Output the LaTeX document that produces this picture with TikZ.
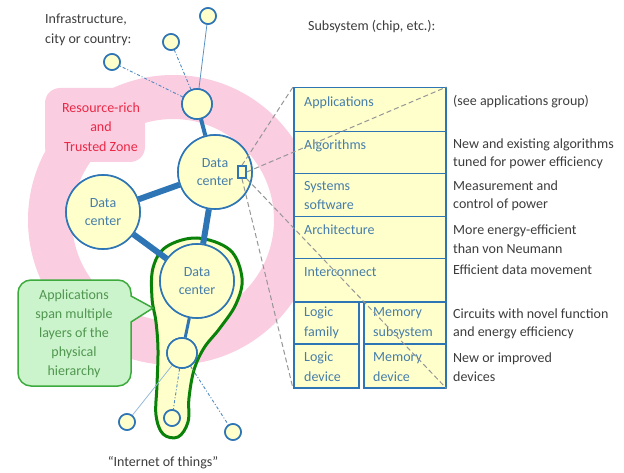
\documentclass[tikz,border=0pt]{standalone}
\usepackage{fontspec}
\setmainfont{Carlito}
\definecolor{bl}{RGB}{46,117,182}
\definecolor{yl}{RGB}{255,255,204}
\definecolor{pk}{RGB}{250,205,225}
\definecolor{rd}{RGB}{235,40,70}
\definecolor{gdark}{RGB}{10,130,10}
\definecolor{gfill}{RGB}{204,244,204}
\definecolor{gline}{RGB}{60,170,60}
\definecolor{gtext}{RGB}{80,150,80}
\definecolor{ttext}{RGB}{70,125,170}
\definecolor{dtext}{RGB}{60,60,60}
\definecolor{dash}{RGB}{150,150,150}
\tikzset{
  every node/.style={font=\fontsize{14}{17}\selectfont},
  circ/.style={circle, draw=bl, fill=yl, line width=1.6pt, inner sep=0pt, minimum size=#1},
  dcnode/.style={circ=74pt, text=ttext, align=center, font=\fontsize{14}{18}\selectfont},
  thickedge/.style={draw=bl, line width=#1},
  thinsolid/.style={draw=bl!80, line width=0.8pt},
  dashdot/.style={draw=bl!85, line width=0.9pt, dash pattern=on 3pt off 2pt on 1pt off 2pt},
  cell/.style={draw=bl, fill=yl, line width=1.5pt, anchor=north west, inner sep=0pt},
  ctext/.style={anchor=west, text=ttext, inner sep=0pt},
  desc/.style={anchor=west, text=dtext, inner sep=0pt},
  zoomline/.style={draw=dash, line width=1pt, dash pattern=on 5pt off 3pt},
}
\begin{document}
\begin{tikzpicture}[x=1pt,y=-1pt]
\useasboundingbox (0,0) rectangle (624,473);
% pink zone
\fill[pk, even odd rule] (173,220) circle (145pt) (173,220) circle (101pt);
\fill[pk, rounded corners=15pt] (45,88) rectangle (145,162);
\node[text=rd, align=center, font=\fontsize{14}{19.5}\selectfont] (zone) at (101,127) {Resource-rich\\and\\Trusted Zone};
% green balloon
\draw[gdark, fill=yl, line width=3pt] plot[smooth cycle, tension=0.6] coordinates {
 (197,238) (230,250) (242,278) (236,304) (220,328) (204,348) (194,370) (189,398) (188,422) (178,437) (163,434) (156,415) (157,385) (158,350) (156,322) (152,298) (153,268) (166,247)};
% nodes
\node[circ=16pt] (t1) at (208,16) {};
\node[circ=16pt] (t2) at (171,42) {};
\node[circ=16pt] (t3) at (112,62) {};
\node[circ=30pt] (hub) at (197,104) {};
\node[dcnode] (dc1) at (215,172) {Data\\center};
\node[dcnode] (dc2) at (103,212) {Data\\center};
\node[dcnode] (dc3) at (197,281) {Data\\center};
\node[circ=30pt] (sm) at (182,353) {};
\node[circ=16pt] (b1) at (127,422) {};
\node[circ=16pt] (b2) at (172,418) {};
\node[circ=16pt] (b3) at (233,432) {};
% edges
\draw[thinsolid] (hub) -- (t1);
\draw[dashdot] (hub) -- (t2);
\draw[dashdot] (hub) -- (t3);
\draw[thickedge=4pt] (hub) -- (dc1);
\draw[thickedge=6pt] (dc1) -- (dc2);
\draw[thickedge=6pt] (dc1) -- (dc3);
\draw[thickedge=6pt] (dc2) -- (dc3);
\draw[thickedge=3pt] (dc3) -- (sm);
\draw[draw=bl!50, line width=0.8pt] (sm) -- (b1);
\draw[dashdot] (sm) -- (b2);
\draw[dashdot] (sm) -- (b3);
% redraw circles on top of edges
\node[circ=16pt] at (t1) {};
\node[circ=16pt] at (t2) {};
\node[circ=16pt] at (t3) {};
\node[circ=30pt] at (hub) {};
\node[dcnode] at (dc1) {Data\\center};
\node[dcnode] at (dc2) {Data\\center};
\node[dcnode] at (dc3) {Data\\center};
\node[circ=30pt] at (sm) {};
\node[circ=16pt] at (b1) {};
\node[circ=16pt] at (b2) {};
\node[circ=16pt] at (b3) {};
% chip marker
\node[draw=bl, fill=yl, line width=1.5pt, minimum width=8pt, minimum height=12pt, inner sep=0pt] (chip) at (242,172) {};
% table
\node[cell, minimum width=152pt, minimum height=44pt] (app) at (293,87) {};
\node[cell, minimum width=152pt, minimum height=42pt] (alg) at (293,131) {};
\node[cell, minimum width=152pt, minimum height=43pt] (sys) at (293,173) {};
\node[cell, minimum width=152pt, minimum height=42pt] (arc) at (293,216) {};
\node[cell, minimum width=152pt, minimum height=43pt] (ic) at (293,258) {};
\node[cell, minimum width=65pt, minimum height=42pt] (lf) at (293,301) {};
\node[cell, minimum width=65pt, minimum height=44pt] (ld) at (293,343) {};
\node[cell, minimum width=82pt, minimum height=42pt] (ms) at (363,301) {};
\node[cell, minimum width=82pt, minimum height=44pt] (md) at (363,343) {};
\node[ctext] at (304,103) {Applications};
\node[ctext] at (304,146) {Algorithms};
\node[ctext, align=left, font=\fontsize{14}{19}\selectfont] at (304,196) {Systems\\software};
\node[ctext] at (304,230) {Architecture};
\node[ctext] at (304,272) {Interconnect};
\node[ctext, align=left, font=\fontsize{14}{20}\selectfont] at (304,323) {Logic\\family};
\node[ctext, align=left, font=\fontsize{14}{20}\selectfont] at (304,367) {Logic\\device};
\node[ctext, align=left, font=\fontsize{14}{20}\selectfont] at (373,323) {Memory\\subsystem};
\node[ctext, align=left, font=\fontsize{14}{20}\selectfont] at (373,367) {Memory\\device};
% zoom lines
\draw[zoomline] (chip.north) -- (app.north west);
\draw[zoomline] (chip.east) -- (app.north east);
\draw[zoomline] (chip.south) -- (ld.south west);
\draw[zoomline] (chip.south east) -- (md.south east);
% descriptions
\begin{scope}[every node/.append style={font=\fontsize{14}{18.5}\selectfont}]
\node[desc] at (453,102) {(see applications group)};
\node[desc, align=left] at (453,154) {New and existing algorithms\\tuned for power efficiency};
\node[desc, align=left] at (453,196) {Measurement and\\control of power};
\node[desc, align=left] at (453,239) {More energy-efficient\\than von Neumann};
\node[desc] at (453,270) {Efficient data movement};
\node[desc, align=left] at (453,324) {Circuits with novel function\\and energy efficiency};
\node[desc, align=left] at (453,367) {New or improved\\devices};
\node[desc] at (308,27) {Subsystem (chip, etc.):};
\node[desc, align=left, font=\fontsize{14}{20}\selectfont] at (45,30) {Infrastructure,\\city or country:};
\node[text=dtext] at (163,463) {“Internet of things”};
\end{scope}
% speech bubble
\draw[gline, fill=gfill, line width=1.5pt] (131,322) [rounded corners=13pt] -- (131,386) -- (18,386) -- (18,280) -- (131,280) [sharp corners] -- (131,296) -- (153,308) -- cycle;
\node[text=gtext, align=center, font=\fontsize{14}{19}\selectfont] (bub) at (74,334) {Applications\\span multiple\\layers of the\\physical\\hierarchy};
\end{tikzpicture}
\end{document}
